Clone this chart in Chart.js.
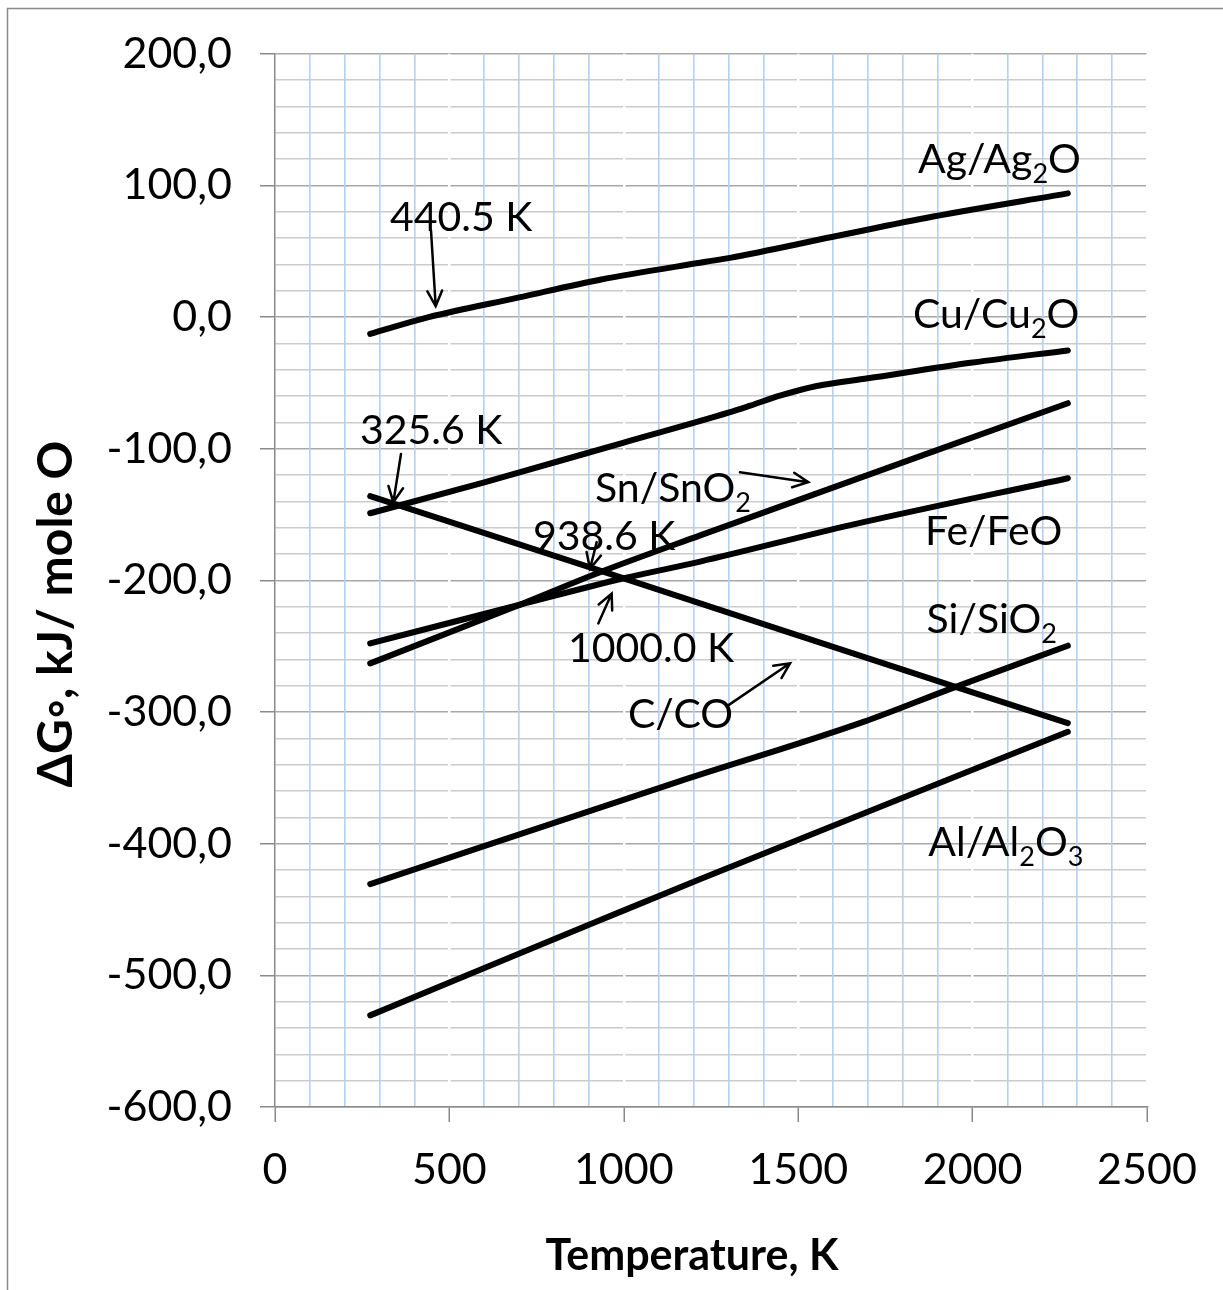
<!DOCTYPE html>
<html><head><meta charset="utf-8">
<script src="https://cdn.jsdelivr.net/npm/chart.js@4.4.0/dist/chart.umd.min.js"></script>
<style>html,body{margin:0;padding:0;background:#fff;}canvas{display:block;}</style>
</head><body>
<canvas id="c" width="1223" height="1290"></canvas>
<script>
// ---- data (temperature in K, ΔG° in kJ per mole O) ----
const tempAg = [273, 440.5, 700, 932, 1235, 1304, 1600, 1887, 2273];
const dgAg   = [-12.7, 0, 15, 28.4, 42, 45, 61, 76.4, 94];
const tempCu = [273, 600, 1000, 1300, 1360, 1450, 1550, 1700, 2000, 2273];
const dgCu   = [-149, -125.5, -95.3, -72.6, -67.5, -59.5, -52.5, -46.5, -34.5, -25.3];
const tempSn = [273, 702, 938.6, 1219, 2273];
const dgSn   = [-263, -218.5, -193.1, -165.8, -65.4];
const tempFe = [273, 702, 1000, 1219, 1650, 2273];
const dgFe   = [-247.9, -218.5, -198.4, -185.7, -158, -122.4];
const tempC  = [273, 938.6, 1000, 1940, 2273];
const dgC    = [-136, -193.1, -198.4, -280, -308.4];
const tempSi = [273, 1161, 1687, 1940, 2273];
const dgSi   = [-430.7, -352.5, -307.5, -282, -249.6];
const tempAl = [273, 933, 1218, 2273];
const dgAl   = [-530.4, -458, -427, -315];

const seriesNames = ['Ag/Ag2O', 'Cu/Cu2O', 'Sn/SnO2', 'Fe/FeO', 'C/CO', 'Si/SiO2', 'Al/Al2O3'];
const seriesT = [tempAg, tempCu, tempSn, tempFe, tempC, tempSi, tempAl];
const seriesG = [dgAg, dgCu, dgSn, dgFe, dgC, dgSi, dgAl];

// tick labels (major); grid: x every 100 K, y every 20 kJ
const xTickLabels = [0, 500, 1000, 1500, 2000, 2500];
const yTickLabels = ['200,0', '100,0', '0,0', '-100,0', '-200,0', '-300,0', '-400,0', '-500,0', '-600,0'];
const xMinorStep = 100;
const yMinorStep = 20;

// annotation texts ({n} = subscript) anchored in data units
const noteText = ['Ag/Ag{2}O', '440.5 K', 'Cu/Cu{2}O', '325.6 K', 'Sn/SnO{2}', '938.6 K', 'Fe/FeO', '1000.0 K', 'Si/SiO{2}', 'C/CO', 'Al/Al{2}O{3}'];
const noteT    = [1843.5, 329.7, 1829, 243.7, 917.4, 739.7, 1863.5, 840, 1868, 1012, 1873];
const noteG    = [109.2, 65.1, -8.1, -96.5, -140.6, -176.9, -173.4, -261.7, -240.3, -312.4, -409.3];
// arrows: from (T,G) to (T,G)
const arrowFromT = [447.2, 361.2, 1333, 922.3, 926.9, 1295];
const arrowFromG = [66.0, -104.0, -117.9, -170.9, -232.7, -295.7];
const arrowToT   = [460.7, 339.2, 1529, 903.1, 965.3, 1476.5];
const arrowToG   = [8.3, -140.6, -125.4, -191.1, -210.0, -263.0];

const xTitle = 'Temperature, K';
const yTitle = 'ΔG\u25E6, kJ/ mole O';

const FONT = 'Lato';

function drawRich(ctx, str, x, y, size) {
  const parts = str.split(/\{(\d)\}/);
  let cx = x;
  parts.forEach((p, i) => {
    if (!p) return;
    const sub = i % 2 === 1;
    ctx.font = (sub ? Math.round(size * 0.66) : size) + 'px ' + FONT;
    ctx.fillText(p, cx, sub ? y + size * 0.24 : y);
    cx += ctx.measureText(p).width;
  });
}

function drawArrow(ctx, x1, y1, x2, y2) {
  const ang = Math.atan2(y2 - y1, x2 - x1);
  const h = 17, a = Math.PI / 7;
  ctx.beginPath();
  ctx.moveTo(x1, y1); ctx.lineTo(x2, y2);
  ctx.moveTo(x2 - h * Math.cos(ang - a), y2 - h * Math.sin(ang - a));
  ctx.lineTo(x2, y2);
  ctx.lineTo(x2 - h * Math.cos(ang + a), y2 - h * Math.sin(ang + a));
  ctx.stroke();
}

const decor = {
  id: 'decor',
  beforeDraw(chart) {
    const ctx = chart.ctx;
    ctx.save();
    ctx.fillStyle = '#fff';
    ctx.fillRect(0, 0, chart.width, chart.height);
    ctx.strokeStyle = '#8a8a8a';
    ctx.lineWidth = 1.5;
    ctx.strokeRect(7.5, 8.5, chart.width + 20, chart.height + 20);
    ctx.restore();
  },
  afterDatasetsDraw(chart) {
    const ctx = chart.ctx, xs = chart.scales.x, ys = chart.scales.y;
    ctx.save();
    ctx.fillStyle = '#000';
    ctx.textBaseline = 'alphabetic';
    ctx.textAlign = 'left';
    noteText.forEach((t, i) => {
      drawRich(ctx, t, xs.getPixelForValue(noteT[i]), ys.getPixelForValue(noteG[i]), 41);
    });
    ctx.strokeStyle = '#000';
    ctx.lineWidth = 2.5;
    ctx.lineCap = 'round';
    arrowFromT.forEach((t, i) => {
      drawArrow(ctx, xs.getPixelForValue(t), ys.getPixelForValue(arrowFromG[i]),
                xs.getPixelForValue(arrowToT[i]), ys.getPixelForValue(arrowToG[i]));
    });
    // axis titles
    ctx.font = 'bold 43px ' + FONT;
    ctx.textAlign = 'center';
    ctx.fillText(xTitle, 692, 1270);
    ctx.translate(72, 614);
    ctx.rotate(-Math.PI / 2);
    ctx.font = 'bold 48px ' + FONT;
    ctx.fillText(yTitle, 0, 0);
    ctx.restore();
  }
};

const datasets = seriesNames.map((name, i) => ({
  label: name,
  data: seriesT[i].map((t, j) => ({ x: t, y: seriesG[i][j] })),
  borderColor: '#000',
  backgroundColor: '#000',
  borderWidth: 6,
  borderCapStyle: 'round',
  borderJoinStyle: 'round',
  pointRadius: 0,
  fill: false,
  cubicInterpolationMode: 'monotone'
}));

const isMajorX = v => Math.round(v) % 500 === 0;
const isMajorY = v => Math.abs(Math.round(v)) % 100 === 0;

function stepTicks(min, max, step) {
  const out = [];
  for (let v = min; v <= max + 1e-9; v += step) out.push({ value: Math.round(v) });
  return out;
}

new Chart(document.getElementById('c'), {
  type: 'line',
  data: { datasets },
  plugins: [decor],
  options: {
    responsive: false,
    animation: false,
    devicePixelRatio: 1,
    layout: { padding: { left: 0, top: 50, right: 76, bottom: 0 } },
    plugins: { legend: { display: false }, tooltip: { enabled: false } },
    scales: {
      x: {
        type: 'linear', min: 0, max: 2500,
        afterBuildTicks: s => { s.ticks = stepTicks(0, 2500, xMinorStep); },
        ticks: {
          autoSkip: false, maxRotation: 0, minRotation: 0,
          color: '#000', font: { family: FONT, size: 43 }, padding: 22,
          callback: v => isMajorX(v) ? String(xTickLabels[Math.round(v) / 500]) : ''
        },
        grid: {
          z: 0,
          color: c => c.tick && isMajorX(c.tick.value) ? (c.tick.value === 0 ? 'rgba(0,0,0,0)' : '#ffffff') : '#b6d0f2',
          lineWidth: c => c.tick && isMajorX(c.tick.value) ? 2.5 : 1.6,
          tickLength: 15, tickWidth: 1.5,
          tickColor: c => c.tick && isMajorX(c.tick.value) ? '#8a8a8a' : 'rgba(0,0,0,0)'
        },
        border: { color: '#8a8a8a', width: 1.5 },
        afterFit: s => { s.height = 183; }
      },
      y: {
        type: 'linear', min: -600, max: 200,
        afterBuildTicks: s => { s.ticks = stepTicks(-600, 200, yMinorStep); },
        ticks: {
          autoSkip: false,
          color: '#000', font: { family: FONT, size: 43 }, padding: 28,
          callback: v => isMajorY(v) ? yTickLabels[(200 - Math.round(v)) / 100] : ''
        },
        grid: {
          z: -1,
          color: c => c.tick && isMajorY(c.tick.value) ? '#a8a8a8' : '#cbcbcb',
          lineWidth: 1.5,
          tickLength: 15, tickWidth: 1.5,
          tickColor: c => c.tick && isMajorY(c.tick.value) ? '#8a8a8a' : 'rgba(0,0,0,0)'
        },
        border: { color: '#8a8a8a', width: 1.5 },
        afterFit: s => { s.width = 275; }
      }
    }
  }
});
</script>
</body></html>
